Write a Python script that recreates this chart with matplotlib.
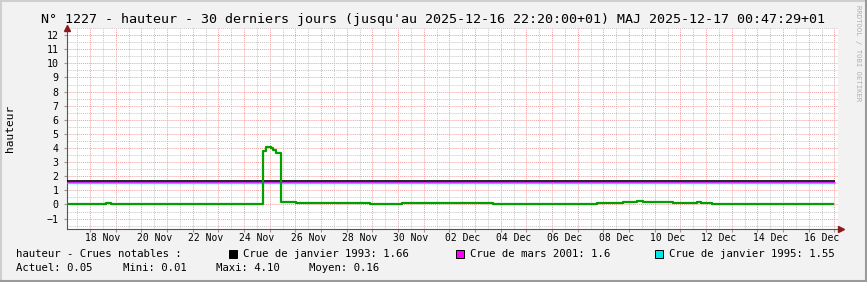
import numpy as np
import pandas as pd
import matplotlib
matplotlib.use("Agg")
import matplotlib.pyplot as plt
import matplotlib.dates as mdates
from matplotlib.patches import Rectangle
from matplotlib.lines import Line2D
from matplotlib.ticker import MultipleLocator, FuncFormatter

# Donnees (hauteur en escalier)
temps = ['2025-11-17 02:30', '2025-11-18 15:00', '2025-11-18 19:40', '2025-11-20 00:15',
         '2025-11-24 17:45', '2025-11-24 20:10', '2025-11-25 01:00', '2025-11-25 03:20',
         '2025-11-25 06:00', '2025-11-25 10:20', '2025-11-26 00:30', '2025-11-28 21:40',
         '2025-11-30 03:50', '2025-12-03 02:40', '2025-12-03 16:50', '2025-12-07 18:00',
         '2025-12-08 18:15', '2025-12-09 07:30', '2025-12-09 13:00', '2025-12-10 17:00',
         '2025-12-11 15:30', '2025-12-11 19:15', '2025-12-12 06:00', '2025-12-16 22:20']
hauteur = [0.01, 0.07, 0.01, 0.06,
           3.77, 4.10, 4.00, 3.84,
           3.65, 0.20, 0.13, 0.06,
           0.13, 0.09, 0.06, 0.13,
           0.20, 0.27, 0.20, 0.13,
           0.20, 0.13, 0.05, 0.05]

crues_noms = ['Crue de janvier 1993', 'Crue de mars 2001', 'Crue de janvier 1995']
crues_val = [1.66, 1.6, 1.55]
crues_col = ['#000000', '#ff00ff', '#00e8e8']

titre = "N° 1227 - hauteur - 30 derniers jours (jusqu'au 2025-12-16 22:20:00+01) MAJ 2025-12-17 00:47:29+01"
stats_noms = ['Actuel', 'Mini', 'Maxi', 'Moyen']
stats_val = [0.05, 0.01, 4.10, 0.16]

W, H = 867, 282
def fx(px):
    return px / W
def fy(py):
    return 1 - py / H

mono = 'DejaVu Sans Mono'
fig = plt.figure(figsize=(W / 100, H / 100), dpi=100)
fig.patch.set_facecolor('#f2f2f2')

ax = fig.add_axes([fx(67), fy(229), (838 - 67) / W, (229 - 27.5) / H])
ax.set_facecolor('white')

x0 = mdates.date2num(pd.Timestamp('2025-11-18'))
xg, xd = x0 - 0.896, x0 + 29.14
ax.set_xlim(xg, xd)
ax.set_ylim(-1.74, 12.54)

# grilles
ax.xaxis.set_major_locator(mdates.DayLocator())
ax.xaxis.set_minor_locator(mdates.HourLocator(byhour=[12]))
ax.yaxis.set_major_locator(MultipleLocator(1))
ax.yaxis.set_minor_locator(MultipleLocator(0.5))
ax.grid(which='major', color='#f4a0a0', linestyle=(0, (1, 1)), linewidth=0.7)
ax.grid(which='minor', color='#c8c8c8', linestyle=(0, (1, 1)), linewidth=0.7)
ax.set_axisbelow(True)

def etiquette(x, pos):
    d = mdates.num2date(x)
    if d.day % 2 == 0:
        return d.strftime('%d %b')
    return ''
ax.xaxis.set_major_formatter(FuncFormatter(lambda x, p: ''))
ax.xaxis.set_minor_formatter(FuncFormatter(etiquette))
ax.tick_params(axis='x', which='minor', length=0, pad=3, labelsize=7)
ax.tick_params(axis='x', which='major', length=2, color='#999999')
ax.tick_params(axis='y', which='major', length=2, color='#999999', pad=4, labelsize=7.2)
ax.tick_params(axis='y', which='minor', length=0)
for lab in ax.get_xticklabels(minor=True) + ax.get_yticklabels():
    lab.set_fontfamily(mono)

for s in ['top', 'right']:
    ax.spines[s].set_visible(False)
for s in ['left', 'bottom']:
    ax.spines[s].set_color('#555555')
    ax.spines[s].set_linewidth(0.8)

# lignes des crues : le noir au-dessus, puis le cyan, le magenta presque cache
t_fin = mdates.date2num(pd.Timestamp('2025-12-17 00:47'))
epaisseurs = [1.2, 0.8, 1.0]
ordres = [3.3, 3.1, 3.2]
for v, c, lw, z in zip(crues_val, crues_col, epaisseurs, ordres):
    ax.hlines(v, xg, t_fin, color=c, linewidth=lw, zorder=z)

t = mdates.date2num(pd.to_datetime(temps))
ax.step(t, hauteur, where='post', color='#00a000', linewidth=1.6, zorder=4)

# fleches des axes
ax.plot([xg], [12.54], marker='^', color='#8b1a1a', markersize=4.5, clip_on=False, zorder=5)
ax.plot([xd + 0.1], [-1.74], marker='>', color='#8b1a1a', markersize=4.5, clip_on=False, zorder=5)

fig.text(fx(433), fy(19), titre, fontfamily=mono, fontsize=9.6, ha='center', va='center')
fig.text(fx(10), fy(128), 'hauteur', fontfamily=mono, fontsize=8, rotation=90,
         ha='center', va='center')
fig.text(fx(858), fy(5), 'RRDTOOL / TOBI OETIKER', fontfamily=mono, fontsize=5.2,
         rotation=270, ha='center', va='top', color='#b0b0b0')

# legende
fig.text(fx(16), fy(254), 'hauteur - Crues notables :', fontfamily=mono, fontsize=7.7, va='center')
carres = [229, 455.5, 655]
for xc, nom, v, c in zip(carres, crues_noms, crues_val, crues_col):
    fig.patches.append(Rectangle((fx(xc), fy(258)), 8 / W, 8 / H, facecolor=c,
                                 edgecolor='black', linewidth=0.7, transform=fig.transFigure))
    fig.text(fx(xc + 14), fy(254), '%s: %s' % (nom, v), fontfamily=mono, fontsize=7.7, va='center')

xs = [16, 122.7, 216, 309.3]
for x, n, v in zip(xs, stats_noms, stats_val):
    fig.text(fx(x), fy(268), '%s: %.2f' % (n, v), fontfamily=mono, fontsize=7.7, va='center')

# cadre 3D
fig.add_artist(Line2D([0, 1], [fy(0.7), fy(0.7)], color='#cfcfcf', linewidth=1.5, transform=fig.transFigure))
fig.add_artist(Line2D([fx(0.7), fx(0.7)], [0, 1], color='#cfcfcf', linewidth=1.5, transform=fig.transFigure))
fig.add_artist(Line2D([0, 1], [fy(281.3), fy(281.3)], color='#9a9a9a', linewidth=1.5, transform=fig.transFigure))
fig.add_artist(Line2D([fx(866.3), fx(866.3)], [0, 1], color='#9a9a9a', linewidth=1.5, transform=fig.transFigure))

fig.savefig('out.png', dpi=100, facecolor=fig.get_facecolor())
